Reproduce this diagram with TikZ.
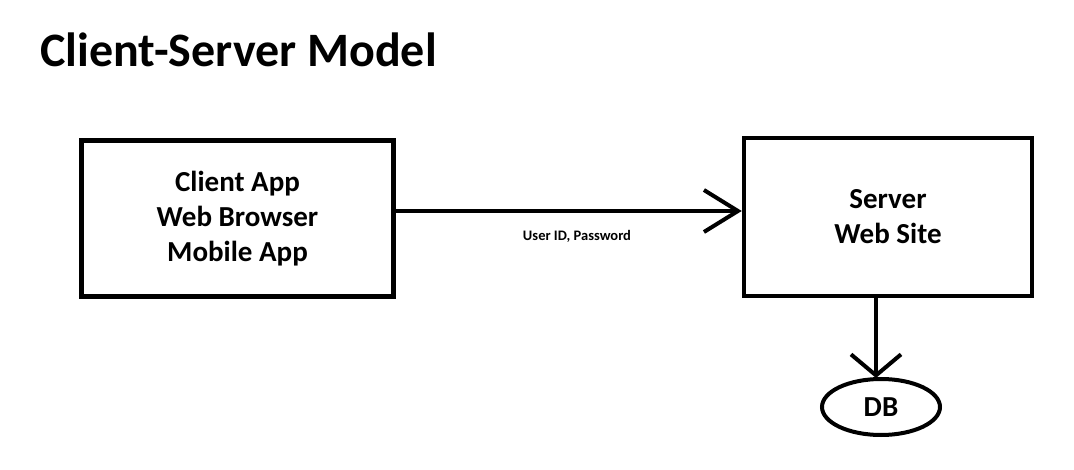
\documentclass[tikz,border=0pt]{standalone}
\usepackage{fontspec}
\setmainfont{Carlito}
\usetikzlibrary{arrows.meta,shapes.geometric}
\begin{document}
\begin{tikzpicture}[x=1pt,y=-1pt,
  box/.style={draw=black,line width=4.5pt,minimum width=312pt,minimum height=156pt,align=center,font=\bfseries\fontsize{29}{35}\selectfont,inner sep=0pt},
  conn/.style={line width=4pt,-{Straight Barb[length=34pt,width=42pt,line width=4pt]}},
  dbconn/.style={line width=4pt,-{Straight Barb[length=21pt,width=50pt,line width=4pt]}},
  lbl/.style={font=\bfseries\fontsize{14.5}{16}\selectfont}]
\useasboundingbox[fill=white] (0,0) rectangle (1074,470);
\node[anchor=west,font=\bfseries\fontsize{48}{52}\selectfont,inner sep=0pt] (title) at (40,50) {Client-Server Model};
\node[box] (client) at (237.5,218.5) {Client App\\Web Browser\\Mobile App};
\node[box,minimum width=288pt,minimum height=158pt] (server) at (888,217) {Server\\Web Site};
\node[draw=black,line width=4pt,ellipse,minimum width=118pt,minimum height=56pt,inner sep=0pt,font=\bfseries\fontsize{29}{32}\selectfont] (db) at (881,407) {DB};
\draw[conn] (client.east |- 0,211) -- (server.west |- 0,211);
\node[lbl] (up) at (577,236) {User ID, Password};
\draw[dbconn] (876,297) coordinate (s) -- ([yshift=-1pt]s |- db.north);
\end{tikzpicture}
\end{document}
